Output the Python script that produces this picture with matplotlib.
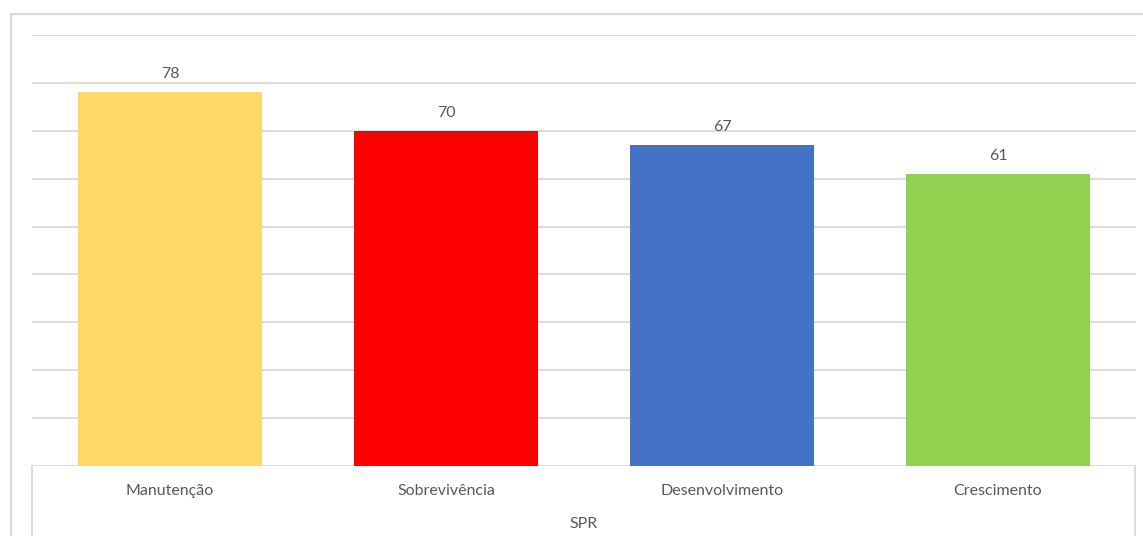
import numpy as np
import matplotlib.pyplot as plt
from matplotlib.lines import Line2D

categorias = ['Manutenção', 'Sobrevivência', 'Desenvolvimento', 'Crescimento']
valores = [78, 70, 67, 61]
cores = ['#FFD966', '#FF0000', '#4472C4', '#92D050']
grupo = 'SPR'

plt.rcParams['font.family'] = ['Lato', 'DejaVu Sans']

W, H = 1143, 536
fig = plt.figure(figsize=(W / 100, H / 100), dpi=100)


def fx(px):
    return px / W


def fy(py):
    return 1 - py / H


grid_c = '#d9d9d9'
txt_c = '#595959'
fs = 11.5

ax = fig.add_axes([fx(32), fy(466), fx(1136) - fx(32), fy(35) - fy(466)])
x = np.arange(len(categorias))
bars = ax.bar(x, valores, width=0.667, color=cores, zorder=3)
for b, v in zip(bars, valores):
    ax.annotate(str(v), (b.get_x() + b.get_width() / 2, v), xytext=(0, 8),
                textcoords='offset points', ha='center', va='bottom',
                fontsize=fs, color=txt_c)

ax.set_xlim(-0.5, len(categorias) - 0.5)
ax.set_ylim(0, 90)
ax.set_yticks(np.arange(0, 91, 10))
ax.yaxis.grid(True, color=grid_c, linewidth=1.3, zorder=0)
ax.tick_params(left=False, labelleft=False, bottom=False, labelbottom=False)
for s in ax.spines.values():
    s.set_visible(False)

# category labels
px2val = 90 / 431
for i, c in enumerate(categorias):
    ax.text(i, -25 * px2val, c, ha='center', va='center', fontsize=fs,
            color=txt_c, clip_on=False)
ax.text((len(categorias) - 1) / 2, -58 * px2val, grupo, ha='center',
        va='center', fontsize=fs, color=txt_c, clip_on=False)

# category box lines
fig.add_artist(Line2D([fx(32), fx(32)], [fy(466), fy(536)], color=grid_c, lw=1.3))
fig.add_artist(Line2D([fx(1135), fx(1135)], [fy(466), fy(536)], color=grid_c, lw=1.3))

# outer chart border
fig.add_artist(Line2D([fx(11), fx(11)], [fy(14), fy(536)], color=grid_c, lw=1.5))
fig.add_artist(Line2D([fx(11), fx(1143)], [fy(14), fy(14)], color=grid_c, lw=1.5))

fig.savefig('out.png', dpi=100)
